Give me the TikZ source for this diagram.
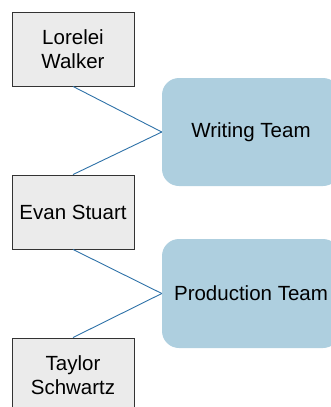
\documentclass[tikz,border=0pt]{standalone}
\usepackage{fontspec}
\setmainfont{Liberation Sans}
\begin{document}
\begin{tikzpicture}[x=1pt,y=1pt,
  person/.style={draw=black!80, fill=black!8, line width=0.9pt,
    minimum width=122pt, minimum height=74pt, inner sep=0pt,
    align=center, font=\fontsize{20.5}{23.5}\selectfont},
  team/.style={fill=teamblue, rounded corners=17pt,
    minimum width=178pt, minimum height=108pt, inner sep=0pt,
    align=center, font=\fontsize{20.5}{23.5}\selectfont},
  link/.style={draw=linkblue, line width=0.9pt}]
\definecolor{teamblue}{HTML}{AECFDF}
\definecolor{linkblue}{HTML}{2E72A8}
\useasboundingbox (0,0) rectangle (331,-407);
\clip (0,0) rectangle (331,-407);
\node[person] (lw) at (73,-49) {Lorelei\\Walker};
\node[person] (es) at (73,-212) {Evan Stuart};
\node[person] (ts) at (73,-375) {Taylor\\Schwartz};
\node[team] (wt) at (251,-132) {Writing Team};
\node[team, minimum height=109pt] (pt) at (251,-293.5) {Production Team};
\draw[link] (lw.south) -- (wt.west);
\draw[link] (wt.west) -- (es.north);
\draw[link] (es.south) -- (pt.west);
\draw[link] (pt.west) -- (ts.north);
\end{tikzpicture}
\end{document}
